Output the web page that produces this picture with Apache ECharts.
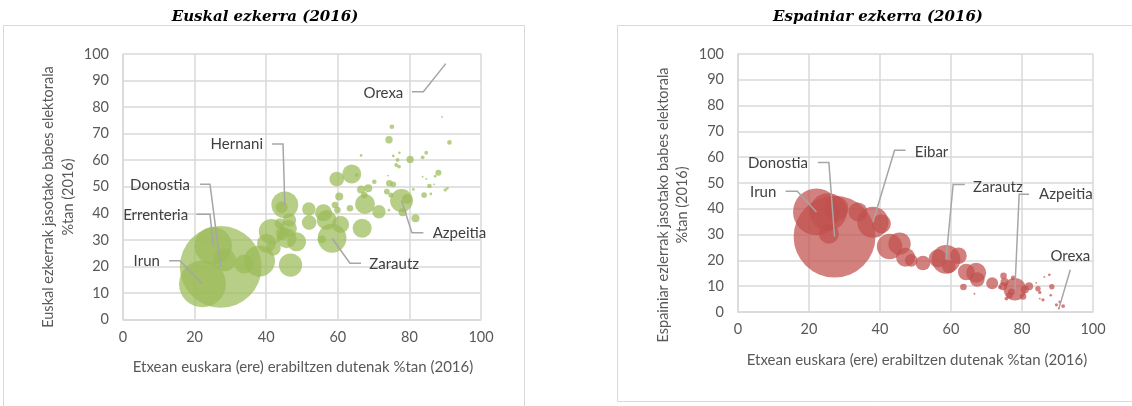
<!DOCTYPE html>
<html><head><meta charset="utf-8">
<script src="https://cdn.jsdelivr.net/npm/echarts/dist/echarts.min.js"></script>
<style>html,body{margin:0;padding:0;background:#fff}#c{width:1132px;height:406px}</style>
</head><body><div id="c"></div><script>
// ---------- DATA ----------
// Left chart: Euskal ezkerra (2016)  [x = etxean euskara %, y = babes %, pop = biztanleak (milaka)]
const leftX   = [27.3,22.2,25.2,38.1,58.4,45.2,41.5,46.8,77.8,28.4,56.9,45.7,67.6,66.8,40.1,48.5,33.8,63.9,56.0,46.2,60.8,59.7,52.0,42.0,51.9,71.5,46.5,44.6,44.3,43.8,79.3,66.5,68.5,60.4,78.1,81.7,55.5,74.3,80.2,59.2,59.9,63.4,67.4,74.4,88.1,75.5,73.7,84.1,74.8,75.1,70.2,85.6,91.2,65.3,76.7,76.3,77.1,83.7,84.7,90.0,66.5,75.5,77.2,74.3,87.2,86.0,90.6,81.1,74.0,83.7,84.7,86.9,89.1,87.4,90.0];
const leftY   = [19.8,13.4,27.8,22.0,30.6,43.2,33.1,20.5,44.8,22.4,37.5,30.6,43.5,34.4,28.7,29.3,20.9,54.8,40.2,34.3,35.8,52.9,36.5,26.8,41.6,40.6,37.5,32.5,42.3,36.2,45.4,49.0,49.4,46.3,40.4,38.1,30.2,67.7,60.3,43.1,41.2,41.9,46.9,51.3,55.3,50.9,48.2,46.9,46.9,72.6,51.9,50.3,66.7,54.4,60.1,58.2,57.6,61.1,62.8,48.8,61.8,61.6,62.8,41.2,54.0,47.3,49.4,49.0,54.2,53.8,52.9,50.9,76.3,31.0,96.1];
const leftPop = [186,61,39,27,23,20,18,15,14.6,14,11,11,11,10,10,10,10,10,8,8,8,6,6,6,5,5,5,5,4,3,2.8,1.8,1.8,1.8,1.8,1.8,1.7,1.5,1.5,1.2,1.2,1.2,1.2,1.2,1.0,0.9,0.9,0.9,0.7,0.6,0.6,0.6,0.6,0.4,0.4,0.4,0.4,0.4,0.4,0.3,0.2,0.2,0.2,0.2,0.2,0.2,0.2,0.2,0.1,0.1,0.1,0.1,0.1,0.1,0.12];
const leftIdx = {Donostia:0, Irun:1, Errenteria:2, Zarautz:4, Hernani:5, Azpeitia:8, Orexa:74};

// Right chart: Espainiar ezkerra (2016)
const rightX   = [27.2,22.1,25.4,38.0,58.6,42.7,27.7,78.0,45.5,25.6,67.1,40.4,47.2,33.8,56.3,62.1,64.3,52.1,67.4,59.4,48.8,71.6,75.1,74.7,80.8,82.0,74.8,80.3,76.5,63.5,77.0,84.5,88.4,77.5,75.6,73.8,91.6,85.0,85.9,89.7,87.7,88.1,90.6,66.6,84.0,86.3,85.0,90.4];
const rightY   = [29.2,38.8,38.8,34.8,20.4,25.4,40.1,8.8,26.5,30.3,15.2,34.2,21.2,38.8,20.8,21.8,15.5,19.0,12.6,17.6,20.0,11.1,11.6,10.0,8.7,10.0,14.0,6.0,6.5,9.7,7.8,9.0,9.8,13.2,5.2,9.6,2.3,7.6,4.7,2.8,14.4,6.5,3.9,7.1,11.3,13.6,5.2,1.4];
const rightPop = [186,61,39,27,23,18,16,14,14,11,11,10,10,10,9,7.7,7.7,6,6,5,4.4,4,1.8,1.8,1.8,1.8,1.2,1.2,1.2,1.2,1.2,0.8,0.8,0.6,0.4,0.4,0.4,0.3,0.3,0.3,0.2,0.2,0.2,0.1,0.1,0.1,0.1,0.12];
const rightIdx = {Donostia:0, Irun:1, Eibar:3, Zarautz:4, Azpeitia:7, Orexa:47};

const xTicks = [0,20,40,60,80,100];
const yTicks = [0,10,20,30,40,50,60,70,80,90,100];

// ---------- ANNOTATION LAYOUT (data coordinates of label text and leader elbows) ----------
const leftAnn = [
  {name:'Orexa',     text:[78.3,85.2], align:'right', path:[[80.7,85.8],[83.9,85.8]]},
  {name:'Hernani',   text:[39.1,66.1], align:'right', path:[[41.6,66.1],[44.7,66.1]]},
  {name:'Donostia',  text:[18.7,50.7], align:'right', path:[[21.5,50.9],[24.3,50.9]]},
  {name:'Errenteria',text:[18.2,39.2], align:'right', path:[[20.5,39.6],[24.3,39.6]]},
  {name:'Irun',      text:[10.3,21.8], align:'right', path:[[12.9,22.1],[15.9,22.1]]},
  {name:'Azpeitia',  text:[86.5,32.5], align:'left',  path:[[83.9,32.7],[80.7,32.7]]},
  {name:'Zarautz',   text:[68.8,20.9], align:'left',  path:[[66.5,21.2],[63.4,21.2]]}
];
const rightAnn = [
  {name:'Donostia', text:[19.7,57.5], align:'right',  path:[[22.5,57.9],[25.6,57.9]]},
  {name:'Irun',     text:[10.8,46.3], align:'right',  path:[[13.4,46.8],[16.7,46.8]]},
  {name:'Eibar',    text:[49.8,61.8], align:'left',   path:[[47.2,62.7],[44.1,62.7]]},
  {name:'Zarautz',  text:[66.2,48.4], align:'left',   path:[[63.9,49.4],[60.6,49.4]]},
  {name:'Azpeitia', text:[84.8,45.6], align:'left',   path:[[82.0,45.6],[79.2,45.6]]},
  {name:'Orexa',    text:[93.6,21.6], align:'center', path:[[93.6,16.4]]}
];

// ---------- CHART ----------
const FONT = 'Lato, "Liberation Sans", sans-serif';
const GRID_COLOR = '#d9d9d9';
const chart = echarts.init(document.getElementById('c'), null, {renderer:'canvas'});

function xAxis(gi){
  return {type:'value', gridIndex:gi, min:0, max:100, interval:20,
    axisLine:{show:true, lineStyle:{color:GRID_COLOR, width:1.5}}, axisTick:{show:false},
    splitLine:{show:true, lineStyle:{color:GRID_COLOR, width:1.5}},
    axisLabel:{color:'#595959', fontSize:14.5, fontFamily:FONT, margin:10,
      formatter:v=> xTicks.includes(v)? String(v):''}};
}
function yAxis(gi){
  return {type:'value', gridIndex:gi, min:0, max:100, interval:10,
    axisLine:{show:true, lineStyle:{color:GRID_COLOR, width:1.5}}, axisTick:{show:false},
    splitLine:{show:true, lineStyle:{color:GRID_COLOR, width:1.5}},
    axisLabel:{color:'#595959', fontSize:14.5, fontFamily:FONT, margin:14,
      formatter:v=> yTicks.includes(v)? String(v):''}};
}
function bubbles(gi, xs, ys, pops, color){
  return {type:'scatter', xAxisIndex:gi, yAxisIndex:gi, silent:true,
    data: xs.map((x,i)=>[x, ys[i], pops[i]]),
    symbolSize: v => Math.sqrt(v[2]) * 6.0,
    itemStyle:{color:color, opacity:0.72, borderWidth:0}};
}
function annotations(gi, anns, idxMap, xs, ys){
  return {type:'custom', xAxisIndex:gi, yAxisIndex:gi, clip:false, silent:true, z:10,
    data: anns.map((a,i)=>{const k=idxMap[a.name]; return [xs[k], ys[k], i];}),
    renderItem:function(params, api){
      const a = anns[api.value(2)];
      const pts = a.path.map(p=>api.coord(p));
      pts.push(api.coord([api.value(0), api.value(1)]));
      const t = api.coord(a.text);
      return {type:'group', children:[
        {type:'polyline', shape:{points:pts}, style:{stroke:'#a6a6a6', lineWidth:1.5, fill:null}},
        {type:'text', x:t[0], y:t[1], style:{text:a.name, align:a.align, verticalAlign:'middle',
          fill:'#404040', fontSize:15, fontFamily:FONT}}
      ]};
    }};
}

const option = {
  animation:false,
  backgroundColor:'#ffffff',
  grid:[
    {left:123, top:54, width:358, height:265.5},
    {left:738, top:54, width:355, height:258}
  ],
  xAxis:[xAxis(0), xAxis(1)],
  yAxis:[yAxis(0), yAxis(1)],
  graphic:[
    {type:'rect', shape:{x:3.5, y:25.5, width:521, height:420}, style:{fill:null, stroke:'#d9d9d9', lineWidth:1}, silent:true, z:-10},
    {type:'rect', shape:{x:617.5, y:25.5, width:530, height:376}, style:{fill:null, stroke:'#d9d9d9', lineWidth:1}, silent:true, z:-10},
    {type:'text', x:265, y:17, style:{text:'Euskal ezkerra (2016)', align:'center', verticalAlign:'middle', fill:'#000', fontSize:15, fontWeight:'bold', fontStyle:'italic', fontFamily:'"DejaVu Serif", serif'}},
    {type:'text', x:878, y:17, style:{text:'Espainiar ezkerra (2016)', align:'center', verticalAlign:'middle', fill:'#000', fontSize:15, fontWeight:'bold', fontStyle:'italic', fontFamily:'"DejaVu Serif", serif'}},
    {type:'text', x:303, y:367, style:{text:'Etxean euskara (ere) erabiltzen dutenak %tan (2016)', align:'center', verticalAlign:'middle', fill:'#595959', fontSize:15, fontFamily:FONT}},
    {type:'text', x:917, y:360, style:{text:'Etxean euskara (ere) erabiltzen dutenak %tan (2016)', align:'center', verticalAlign:'middle', fill:'#595959', fontSize:15, fontFamily:FONT}},
    {type:'text', x:48, y:197, rotation:Math.PI/2, style:{text:'Euskal ezkerrak jasotako babes elektorala', align:'center', verticalAlign:'middle', fill:'#595959', fontSize:14.5, fontFamily:FONT}},
    {type:'text', x:68, y:197, rotation:Math.PI/2, style:{text:'%tan (2016)', align:'center', verticalAlign:'middle', fill:'#595959', fontSize:14.5, fontFamily:FONT}},
    {type:'text', x:663, y:205, rotation:Math.PI/2, style:{text:'Espainiar ezlerrak jasotako babes elektorala', align:'center', verticalAlign:'middle', fill:'#595959', fontSize:14.5, fontFamily:FONT}},
    {type:'text', x:682, y:205, rotation:Math.PI/2, style:{text:'%tan (2016)', align:'center', verticalAlign:'middle', fill:'#595959', fontSize:14.5, fontFamily:FONT}}
  ],
  series:[
    bubbles(0, leftX, leftY, leftPop, '#9BBB59'),
    bubbles(1, rightX, rightY, rightPop, '#C0504D'),
    annotations(0, leftAnn, leftIdx, leftX, leftY),
    annotations(1, rightAnn, rightIdx, rightX, rightY)
  ]
};
chart.setOption(option);
</script></body></html>
